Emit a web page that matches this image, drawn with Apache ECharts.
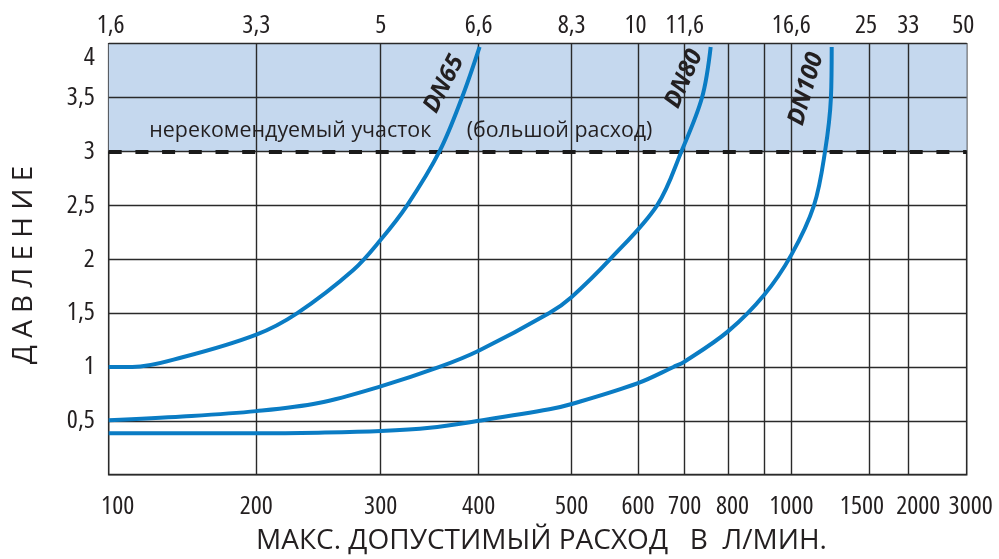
<!DOCTYPE html>
<html><head><meta charset="utf-8">
<script src="https://cdn.jsdelivr.net/npm/echarts@6/dist/echarts.min.js"></script>
<style>html,body{margin:0;padding:0;background:#fff}#c{width:999px;height:559px}</style>
</head><body><div id="c"></div>
<script>
// X scale of the original chart: non-uniform, tick flow values and their relative positions (0..1000)
const tickFlows = [100, 200, 300, 400, 500, 600, 700, 800, 900, 1000, 1500, 2000, 3000];
const tickPos   = [0, 172.0, 317.0, 431.2, 539.6, 616.9, 671.3, 721.8, 764.1, 795.6, 886.1, 931.9, 1000];
const bottomLabels = ['100', '200', '300', '400', '500', '600', '700', '800', '', '1000', '1500', '2000', '3000'];
const topLabels    = ['1,6', '3,3', '5', '6,6', '8,3', '10', '11,6', '', '', '16,6', '25', '33', '50'];

// Curves: flow (L/min) vs pressure
const dn65Flow  = [100, 116, 150, 200, 233, 278, 300, 327, 360, 383, 401];
const dn65Press = [1.0, 1.0, 1.09, 1.30, 1.5, 1.9, 2.18, 2.5, 3.0, 3.5, 3.97];

const dn80Flow  = [100, 150, 200, 250, 300, 360, 400, 476, 500, 558, 641, 693, 740, 760];
const dn80Press = [0.505, 0.54, 0.59, 0.665, 0.82, 1.0, 1.15, 1.5, 1.65, 2.0, 2.5, 3.0, 3.5, 3.97];

const dn100Flow  = [100, 150, 200, 250, 300, 350, 400, 476, 500, 600, 676, 700, 800, 900, 1000, 1146, 1217, 1255, 1260];
const dn100Press = [0.384, 0.384, 0.384, 0.39, 0.405, 0.435, 0.5, 0.607, 0.656, 0.85, 1.0, 1.05, 1.33, 1.67, 2.04, 2.5, 3.0, 3.5, 3.97];

const limitPressure = 3;

function toPos(f) {
  for (let i = 0; i < tickFlows.length - 1; i++) {
    if (f <= tickFlows[i + 1]) {
      const t = (f - tickFlows[i]) / (tickFlows[i + 1] - tickFlows[i]);
      return tickPos[i] + t * (tickPos[i + 1] - tickPos[i]);
    }
  }
  return tickPos[tickPos.length - 1];
}
function pts(fl, pr) { return fl.map((f, i) => [toPos(f), pr[i]]); }

const INK = '#231f20';
const BLUE = '#0a7cc4';
const numFam = "'Open Sans', 'DejaVu Sans Condensed', sans-serif";
const numStyle = { color: INK, fontFamily: numFam, fontWeight: 'condensed', fontSize: 26 };
const txtFont = "'Open Sans', 'Noto Sans', sans-serif";
const dnFont = "italic bold 24px 'Open Sans', 'DejaVu Sans', sans-serif";

// label nudges (style only): [left padding, right padding]
const bottomNudge = { '100': [18, 0], '800': [9, 0], '1500': [0, 14], '2000': [20, 0], '3000': [8, 0] };
const topNudge = { '1,6': [4, 0], '10': [0, 5], '25': [0, 6], '50': [0, 7] };

function richFor(nudge) {
  const r = {};
  Object.keys(nudge).forEach((k, i) => {
    r['n' + i] = Object.assign({ padding: [0, nudge[k][1], 0, nudge[k][0]] }, numStyle);
  });
  return r;
}
function fmtWith(labels, nudge) {
  const keys = Object.keys(nudge);
  return v => {
    const i = tickPos.indexOf(v);
    const s = i >= 0 ? labels[i] : '';
    const k = keys.indexOf(s);
    return k >= 0 ? '{n' + k + '|' + s + '}' : s;
  };
}
function labelValues(labels) { return tickPos.filter((p, i) => labels[i] !== ''); }

const curveSeries = (name, data) => ({
  name, type: 'line', data, smooth: 0.35, showSymbol: false, symbol: 'none',
  lineStyle: { color: BLUE, width: 4 }, z: 5, silent: true
});

const chart = echarts.init(document.getElementById('c'), null, { renderer: 'canvas' });
chart.setOption({
  animation: false,
  backgroundColor: '#fff',
  grid: { left: 108.7, right: 32.3, top: 43.7, bottom: 84.3, show: true, borderColor: '#2a2a2a', borderWidth: 1.6 },
  xAxis: [{
    type: 'value', min: 0, max: 1000, position: 'bottom',
    axisLine: { show: false }, axisTick: { show: false }, splitLine: { show: false },
    axisLabel: Object.assign({
      customValues: labelValues(bottomLabels), margin: 19,
      formatter: fmtWith(bottomLabels, bottomNudge),
      rich: richFor(bottomNudge)
    }, numStyle)
  }, {
    type: 'value', min: 0, max: 1000, position: 'top',
    axisLine: { show: false }, axisTick: { show: false }, splitLine: { show: false },
    axisLabel: Object.assign({
      customValues: labelValues(topLabels), margin: 5,
      formatter: fmtWith(topLabels, topNudge),
      rich: richFor(topNudge)
    }, numStyle)
  }],
  yAxis: {
    type: 'value', min: 0, max: 4, interval: 0.5,
    axisLine: { show: false }, axisTick: { show: false },
    splitLine: { show: true, lineStyle: { color: '#2a2a2a', width: 1.4 } },
    splitArea: { show: true, areaStyle: { color: ['rgba(0,0,0,0)', 'rgba(0,0,0,0)', 'rgba(0,0,0,0)', 'rgba(0,0,0,0)', 'rgba(0,0,0,0)', 'rgba(0,0,0,0)', '#c5d8ee', '#c5d8ee'] } },
    axisLabel: Object.assign({
      margin: 14,
      formatter: v => v === 0 ? '' : (v === 4 ? '{top|4}' : String(v).replace('.', ',')),
      rich: { top: Object.assign({ padding: [27, 0, 0, 0] }, numStyle) }
    }, numStyle)
  },
  series: [
    {
      type: 'line', data: [], silent: true, z: 2,
      markLine: {
        silent: true, symbol: 'none', label: { show: false }, animation: false,
        lineStyle: { color: '#2a2a2a', width: 1.4, type: 'solid' },
        emphasis: { disabled: true },
        data: tickPos.slice(1, -1).map(p => ({ xAxis: p }))
      }
    },
    {
      type: 'line', data: [], silent: true, z: 3,
      markLine: {
        silent: true, symbol: 'none', label: { show: false }, animation: false,
        lineStyle: { color: '#1a1a1a', width: 4, type: [13, 13.7] },
        emphasis: { disabled: true },
        data: [{ yAxis: limitPressure }]
      }
    },
    curveSeries('DN65', pts(dn65Flow, dn65Press)),
    curveSeries('DN80', pts(dn80Flow, dn80Press)),
    curveSeries('DN100', pts(dn100Flow, dn100Press))
  ],
  graphic: [
    { type: 'text', x: 541.5, y: 541, style: { text: 'МАКС. ДОПУСТИМЫЙ РАСХОД   В  Л/МИН.', font: "28px " + txtFont, fill: INK, align: 'center', verticalAlign: 'middle' } },
    { type: 'text', x: 24, y: 265, rotation: Math.PI / 2, style: { text: 'Д А В Л Е Н И Е', font: "28px " + txtFont, fill: INK, align: 'center', verticalAlign: 'middle' } },
    { type: 'text', x: 149.3, y: 131, z: 10, style: { text: 'нерекомендуемый участок', font: "21.4px " + txtFont, fill: INK, align: 'left', verticalAlign: 'middle' } },
    { type: 'text', x: 466.7, y: 131, z: 10, style: { text: '(большой расход)', font: "21.4px " + txtFont, fill: INK, align: 'left', verticalAlign: 'middle' } },
    { type: 'text', x: 444, y: 84, rotation: 63 * Math.PI / 180, z: 10, style: { text: 'DN65', font: dnFont, fill: INK, align: 'center', verticalAlign: 'middle' } },
    { type: 'text', x: 684, y: 79, rotation: 66 * Math.PI / 180, z: 10, style: { text: 'DN80', font: dnFont, fill: INK, align: 'center', verticalAlign: 'middle' } },
    { type: 'text', x: 806, y: 89, rotation: 74 * Math.PI / 180, z: 10, style: { text: 'DN100', font: dnFont, fill: INK, align: 'center', verticalAlign: 'middle' } }
  ]
});
</script>
</body></html>
